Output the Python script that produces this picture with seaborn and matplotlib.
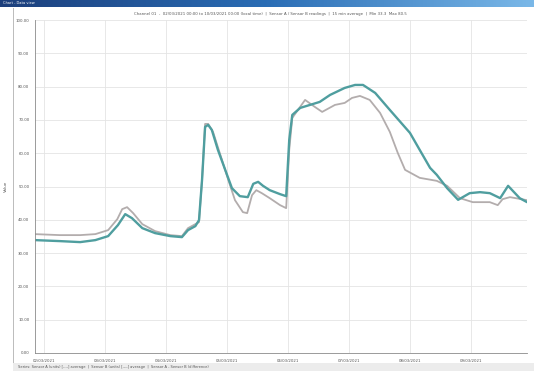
import numpy as np
import pandas as pd
import seaborn as sns
import matplotlib.pyplot as plt
from matplotlib.patches import Rectangle
from matplotlib.colors import LinearSegmentedColormap

# ---- data -------------------------------------------------------------
# time in days from the first tick, values in sensor units
teal_x = [-0.15, 0.26, 0.59, 0.84, 1.05, 1.21, 1.33, 1.44, 1.61, 1.82, 2.07, 2.26,
          2.36, 2.48, 2.54, 2.59, 2.64, 2.69, 2.75, 2.85, 2.97, 3.08, 3.21, 3.34,
          3.43, 3.51, 3.59, 3.70, 3.87, 3.97, 4.02, 4.07, 4.20, 4.52, 4.69, 4.93,
          5.10, 5.23, 5.43, 5.67, 6.00, 6.16, 6.33, 6.44, 6.61, 6.79, 6.98, 7.15,
          7.31, 7.48, 7.61, 7.80, 7.92]
teal_y = [33.9, 33.6, 33.3, 33.9, 35.1, 38.4, 41.7, 40.5, 37.5, 36.0, 35.1, 34.8,
          36.9, 38.1, 39.9, 52.0, 67.9, 68.5, 67.0, 61.0, 55.0, 49.5, 47.1, 46.8,
          50.8, 51.4, 50.2, 48.9, 47.7, 47.1, 64.0, 71.5, 73.6, 75.4, 77.5, 79.6,
          80.5, 80.5, 78.1, 73.0, 66.1, 61.0, 55.6, 53.5, 49.5, 46.0, 48.0, 48.3,
          48.0, 46.5, 50.2, 46.5, 45.3]

grey_x = [-0.15, 0.26, 0.59, 0.84, 1.05, 1.20, 1.28, 1.36, 1.46, 1.61, 1.82, 2.07,
          2.26, 2.36, 2.48, 2.54, 2.59, 2.64, 2.69, 2.77, 2.89, 3.02, 3.13, 3.26,
          3.33, 3.41, 3.48, 3.57, 3.70, 3.87, 3.97, 4.02, 4.07, 4.28, 4.44, 4.56,
          4.77, 4.93, 5.05, 5.18, 5.34, 5.51, 5.67, 5.80, 5.92, 6.16, 6.44, 6.61,
          6.82, 7.03, 7.31, 7.44, 7.52, 7.64, 7.92]
grey_y = [35.7, 35.4, 35.4, 35.7, 36.9, 40.2, 43.2, 43.8, 42.0, 38.7, 36.6, 35.4,
          35.1, 37.5, 38.7, 39.3, 52.0, 68.8, 68.8, 66.4, 59.5, 52.0, 45.9, 42.3,
          42.0, 47.4, 48.9, 48.0, 46.5, 44.4, 43.5, 61.0, 70.6, 76.0, 73.9, 72.4,
          74.5, 75.1, 76.6, 77.2, 76.0, 72.1, 66.4, 60.1, 55.0, 52.6, 51.7, 50.2,
          46.5, 45.3, 45.3, 44.4, 46.2, 46.8, 45.9]

series_names = ["Sensor A", "Sensor B"]
x_tick_labels = ["02/03/2021", "03/03/2021", "04/03/2021", "05/03/2021",
                 "06/03/2021", "07/03/2021", "08/03/2021", "09/03/2021"]
y_ticks = [0, 10, 20, 30, 40, 50, 60, 70, 80, 90, 100]

df = pd.concat([
    pd.DataFrame({"day": teal_x, "value": teal_y, "series": series_names[0]}),
    pd.DataFrame({"day": grey_x, "value": grey_y, "series": series_names[1]}),
], ignore_index=True)

# ---- figure -------------------------------------------------------------
sns.set_theme(style="white")
plt.rcParams["font.family"] = ["DejaVu Sans"]

W, H = 534, 371
fig = plt.figure(figsize=(W / 100, H / 100), dpi=100)
fig.patch.set_facecolor("white")

# window title bar with a blue gradient
bar = fig.add_axes([0, 1 - 7 / H, 1, 7 / H])
grad = np.linspace(0, 1, 256)[None, :]
cmap = LinearSegmentedColormap.from_list("bar", ["#1c3f7c", "#2a6db5", "#7ab8e8"])
bar.imshow(grad, aspect="auto", cmap=cmap, extent=[0, 1, 0, 1])
bar.set_axis_off()
bar.text(0.005, 0.5, "Chart - Data view", color="white", fontsize=2.6,
         va="center", ha="left")

# outer frame lines
fig.add_artist(Rectangle((13 / W, 8 / H), 1 / W, 1 - 16 / H,
                         transform=fig.transFigure, color="#bdbdbd", lw=0))
fig.add_artist(Rectangle((13 / W, 0), 1 - 13 / W, 8 / H,
                         transform=fig.transFigure, color="#ececec", lw=0))

# header line
fig.text(270 / W, 1 - 14 / H,
         "Channel 01  -  02/03/2021 00:00 to 10/03/2021 00:00 (local time)  |  "
         "Sensor A / Sensor B readings  |  15 min average  |  Min 33.3  Max 80.5",
         fontsize=2.8, color="#555555", ha="center", va="center")

ax = fig.add_axes([35 / W, (H - 353) / H, (527 - 35) / W, (353 - 20) / H])
palette = {series_names[0]: "#4f9e9f", series_names[1]: "#b3adad"}
widths = {series_names[0]: 1.7, series_names[1]: 1.3}
for name in [series_names[1], series_names[0]]:
    sub = df[df["series"] == name]
    sns.lineplot(data=sub, x="day", y="value", ax=ax, color=palette[name],
                 lw=widths[name], sort=False, estimator=None, legend=False)

ax.set_xlim(-0.15, 7.92)
ax.set_ylim(0, 100)
ax.set_xticks(range(len(x_tick_labels)))
ax.set_xticklabels(x_tick_labels, fontsize=2.8, color="#555555")
ax.set_yticks(y_ticks)
ax.set_yticklabels([f"{v:.2f}" for v in y_ticks], fontsize=2.8, color="#555555")
ax.tick_params(axis="both", length=2, width=0.4, color="#888888", pad=2)
ax.set_xlabel("")
ax.set_ylabel("Value", fontsize=3, color="#555555")
ax.yaxis.set_label_coords((8 - 35) / (527 - 35), 0.5)
ax.grid(True, color="#e4e4e4", lw=0.6)
for side in ["top", "right"]:
    ax.spines[side].set_visible(False)
for side in ["left", "bottom"]:
    ax.spines[side].set_color("#8a8a8a")
    ax.spines[side].set_linewidth(0.6)

# legend line along the bottom
fig.text(18 / W, 4 / H,
         "Series: Sensor A (units) [----] average  |  Sensor B (units) [----] average  |  "
         "Sensor A - Sensor B (difference)",
         fontsize=2.6, color="#555555", ha="left", va="center")

fig.savefig("out.png", dpi=100, facecolor="white")
